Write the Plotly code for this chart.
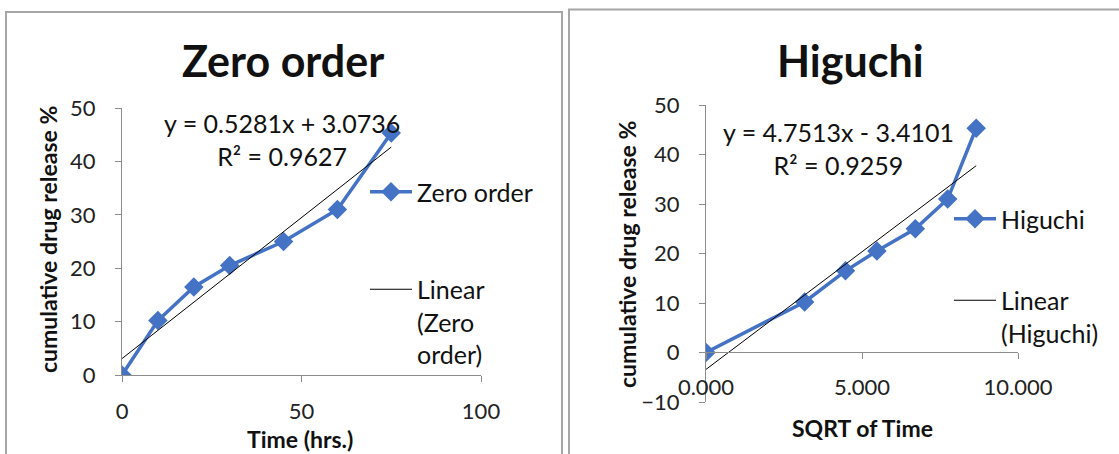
import plotly.graph_objects as go

# ---- data ----
time_hrs = [0, 10, 20, 30, 45, 60, 75]
sqrt_time = [0.0, 3.162, 4.472, 5.477, 6.708, 7.746, 8.660]
release_pct = [0, 10.2, 16.5, 20.5, 25.0, 31.0, 45.3]

zero_slope, zero_intercept, zero_r2 = 0.5281, 3.0736, 0.9627
hig_slope, hig_intercept, hig_r2 = 4.7513, -3.4101, 0.9259

W, H = 1119, 454
FONT = "Lato"
BLUE = "#4472C4"
AXC = "#8C8C8C"


def px(x):
    return x / W


def py(y):
    return 1 - y / H


zero_fit_x = [min(time_hrs), max(time_hrs)]
zero_fit_y = [zero_slope * v + zero_intercept for v in zero_fit_x]
hig_fit_x = [min(sqrt_time), max(sqrt_time)]
hig_fit_y = [hig_slope * v + hig_intercept for v in hig_fit_x]

fig = go.Figure()

# left chart
fig.add_trace(go.Scatter(x=time_hrs, y=release_pct, mode="lines+markers", name="Zero order",
                         line=dict(color=BLUE, width=3.5),
                         marker=dict(symbol="diamond", size=15, color=BLUE),
                         xaxis="x", yaxis="y", legend="legend", legendgroup="a"))
fig.add_trace(go.Scatter(x=zero_fit_x, y=zero_fit_y, mode="lines", name="Linear<br>(Zero<br>order)",
                         line=dict(color="black", width=1),
                         xaxis="x", yaxis="y", legend="legend", legendgroup="b"))
# right chart
fig.add_trace(go.Scatter(x=sqrt_time, y=release_pct, mode="lines+markers", name="Higuchi",
                         line=dict(color=BLUE, width=3.5),
                         marker=dict(symbol="diamond", size=15, color=BLUE),
                         xaxis="x2", yaxis="y2", legend="legend2", legendgroup="c"))
fig.add_trace(go.Scatter(x=hig_fit_x, y=hig_fit_y, mode="lines", name="Linear<br>(Higuchi)",
                         line=dict(color="black", width=1),
                         xaxis="x2", yaxis="y2", legend="legend2", legendgroup="d"))

tickfont = dict(family=FONT, size=22, color="#222")
axis_common = dict(showgrid=False, showline=True, linecolor=AXC, linewidth=1.3,
                   ticks="outside", tickcolor=AXC, ticklen=6, tickfont=tickfont,
                   zeroline=False)

legfont = dict(family=FONT, size=25, color="#111")
fig.update_layout(
    width=W, height=H, margin=dict(l=0, r=0, t=0, b=0, pad=0, autoexpand=False),
    paper_bgcolor="white", plot_bgcolor="white",
    font=dict(family=FONT, color="#111"),
    xaxis=dict(domain=[px(122), px(481)], range=[0, 100], tickvals=[0, 50, 100],
               anchor="y", ticklabelstandoff=10, **axis_common),
    yaxis=dict(domain=[py(375), py(108)], range=[0, 50], tickvals=[0, 10, 20, 30, 40, 50],
               anchor="x", ticklabelstandoff=15, **axis_common),
    xaxis2=dict(domain=[px(706), px(1018)], range=[0, 10], tickvals=[0, 5, 10],
                ticktext=["0.000", "5.000", "10.000"],
                anchor="free", position=py(352), ticklabelstandoff=9, **axis_common),
    yaxis2=dict(domain=[py(402), py(105)], range=[-10, 50],
                tickvals=[-10, 0, 10, 20, 30, 40, 50],
                anchor="x2", ticklabelstandoff=15, **axis_common),
    legend=dict(x=px(365), y=py(169), xanchor="left", yanchor="top", itemwidth=42,
                font=legfont, tracegroupgap=62, valign="top", bgcolor="rgba(0,0,0,0)"),
    legend2=dict(x=px(949), y=py(196), xanchor="left", yanchor="top", itemwidth=42,
                 font=legfont, tracegroupgap=46, valign="top", bgcolor="rgba(0,0,0,0)"),
)

ann = []
ann.append(dict(text="<b>Zero order</b>", x=px(283), y=py(60), font=dict(size=43)))
ann.append(dict(text="<b>Higuchi</b>", x=px(850), y=py(60), font=dict(size=43)))
ann.append(dict(text="<b>cumulative drug release %</b>", x=px(48), y=py(240), textangle=-90,
                font=dict(size=23)))
ann.append(dict(text="<b>cumulative drug release %</b>", x=px(627), y=py(255), textangle=-90,
                font=dict(size=23)))
ann.append(dict(text="<b>Time (hrs.)</b>", x=px(300), y=py(439), font=dict(size=23)))
ann.append(dict(text="<b>SQRT of Time</b>", x=px(862), y=py(428), font=dict(size=23)))
ann.append(dict(text=f"y = {zero_slope}x + {zero_intercept}<br>R² = {zero_r2}",
                x=px(282), y=py(140), font=dict(size=25)))
ann.append(dict(text=f"y = {hig_slope}x - {abs(hig_intercept)}<br>R² = {hig_r2}",
                x=px(838), y=py(148), font=dict(size=25)))
for a in ann:
    a.update(xref="paper", yref="paper", showarrow=False, xanchor="center", yanchor="middle")
    a["font"].update(family=FONT, color="#111")
fig.update_layout(annotations=ann)

# chart frames
frame = dict(color="#A6A6A6", width=2)
fig.add_shape(type="rect", xref="paper", yref="paper", x0=px(6), x1=px(562), y0=py(470), y1=py(12),
              line=frame, layer="below")
fig.add_shape(type="rect", xref="paper", yref="paper", x0=px(569), x1=px(1130), y0=py(470), y1=py(9.5),
              line=frame, layer="below")

fig.write_html("out.html", config={"displayModeBar": False},
               post_script="document.body.style.margin='0';document.body.style.overflow='hidden';")
